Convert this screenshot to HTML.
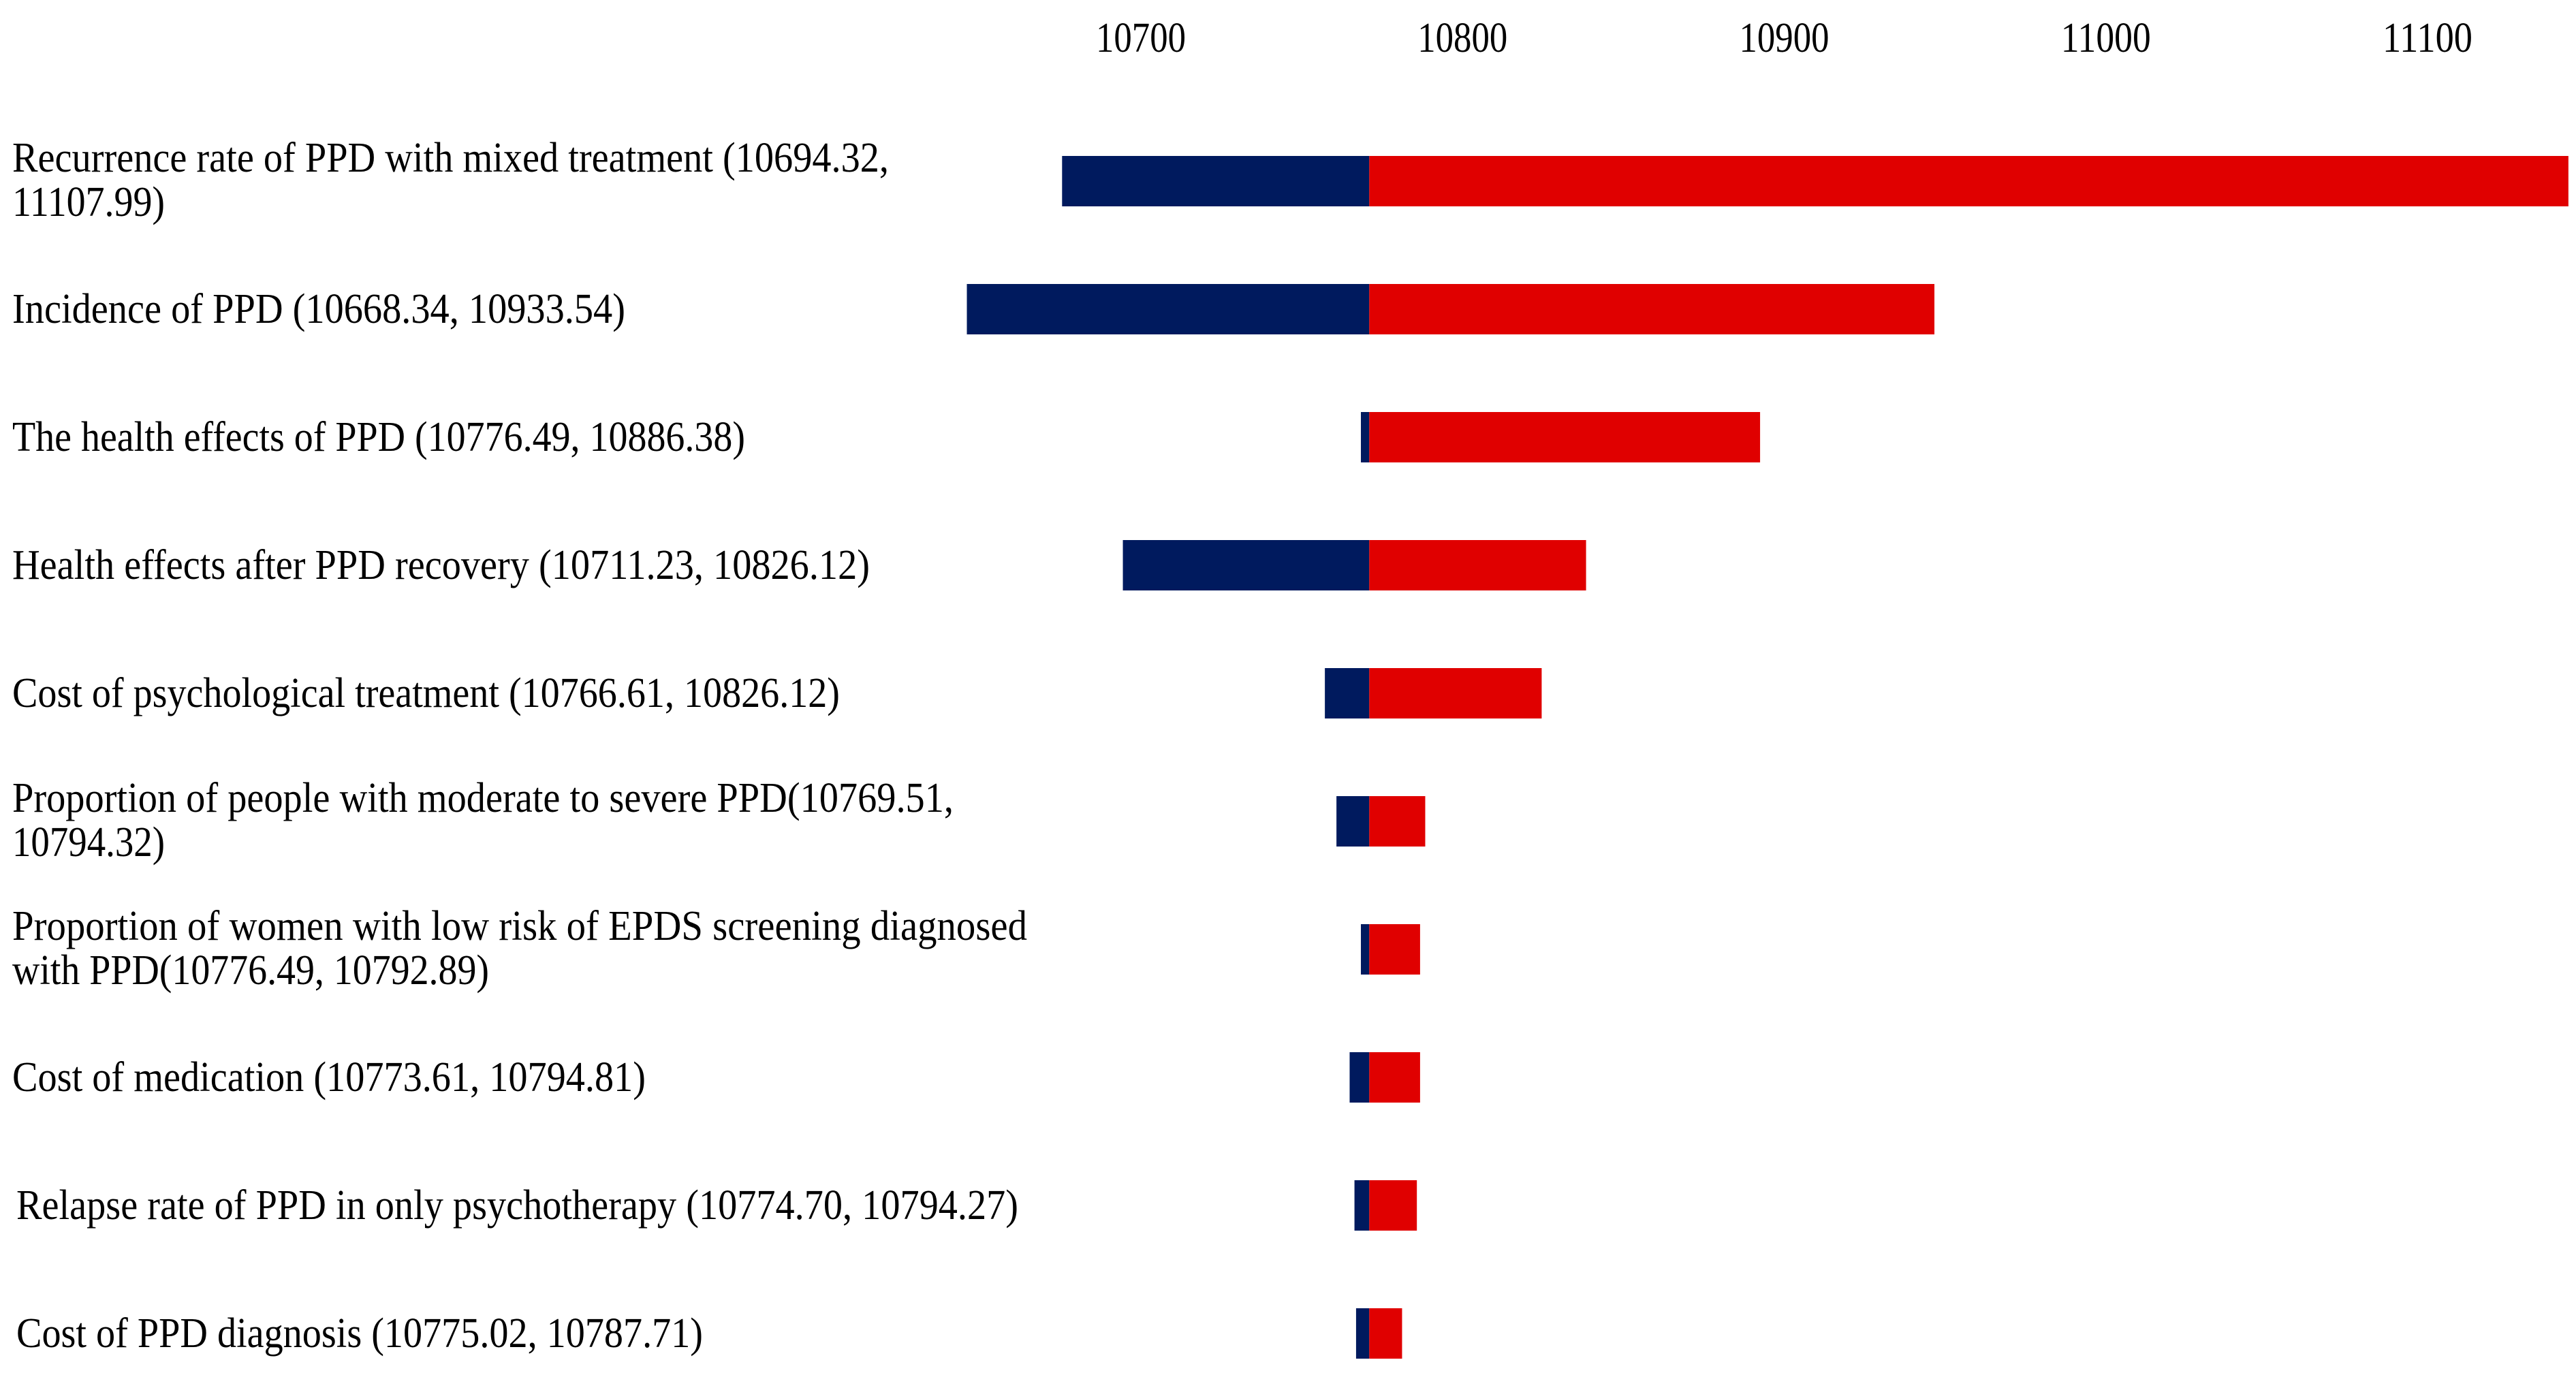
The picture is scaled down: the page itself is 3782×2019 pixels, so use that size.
<!DOCTYPE html>
<html><head><meta charset="utf-8"><style>
html,body{margin:0;padding:0;background:#fff;}
svg{display:block;}
text{font-family:"Liberation Serif",serif;fill:#000;}
</style></head><body>
<svg id="chart" width="3782" height="2019" viewBox="0 0 3782 2019" xmlns="http://www.w3.org/2000/svg"></svg>
<script>
const labels=[
 ["Recurrence rate of PPD with mixed treatment (10694.32,","11107.99)"],
 ["Incidence of PPD (10668.34, 10933.54)"],
 ["The health effects of PPD (10776.49,  10886.38)"],
 ["Health effects after PPD recovery (10711.23,  10826.12)"],
 ["Cost of psychological treatment (10766.61,  10826.12)"],
 ["Proportion of people with moderate to severe PPD(10769.51,","10794.32)"],
 ["Proportion of women with low risk of EPDS screening diagnosed","with PPD(10776.49,  10792.89)"],
 ["Cost of medication (10773.61,  10794.81)"],
 ["Relapse rate of PPD in only psychotherapy (10774.70, 10794.27)"],
 ["Cost of PPD diagnosis (10775.02, 10787.71)"]
];
const labelWidths=[[1287,224],[900,0],[1076,0],[1259,0],[1215,0],[1382,224],[1490,700],[930,0],[1471,0],[1008,0]];
const lowValues=[10675.5,10645.9,10768.4,10694.4,10757.2,10760.8,10768.4,10764.9,10766.4,10766.9];
const highValues=[11143.8,10946.7,10892.5,10838.4,10824.6,10788.4,10786.8,10786.8,10785.8,10781.2];
const baseValue=10771;
const ticks=[10700,10800,10900,11000,11100];

const svg=document.getElementById('chart');
const NS='http://www.w3.org/2000/svg';
function xs(v){return 1675+(v-10700)*4.7225;}
function ys(i){return 266+i*188;}
const barH=74;

ticks.forEach(t=>{
 const el=document.createElementNS(NS,'text');
 el.setAttribute('x',xs(t));el.setAttribute('y',76);
 el.setAttribute('text-anchor','middle');el.setAttribute('font-size','62');
 el.setAttribute('textLength','132');el.setAttribute('lengthAdjust','spacingAndGlyphs');
 el.textContent=t;
 
 
 svg.appendChild(el);
});

labels.forEach((lines,i)=>{
 const cy=ys(i);
 lines.forEach((ln,j)=>{
  const el=document.createElementNS(NS,'text');
  const x=(i>=8)?24:18;
  let y;
  if(lines.length===1){y=cy+20;}else{y=cy-14+j*65;}
  el.setAttribute('x',x);el.setAttribute('y',y);el.setAttribute('font-size','62');
  el.setAttribute('textLength',labelWidths[i][j]);el.setAttribute('lengthAdjust','spacingAndGlyphs');
  el.textContent=ln;
  
  
  svg.appendChild(el);
 });
 const lo=document.createElementNS(NS,'rect');
 lo.setAttribute('x',xs(lowValues[i]));lo.setAttribute('y',cy-barH/2);
 lo.setAttribute('width',xs(baseValue)-xs(lowValues[i]));lo.setAttribute('height',barH);
 lo.setAttribute('fill','#001a5e');
 
 
 svg.appendChild(lo);
 const hi=document.createElementNS(NS,'rect');
 hi.setAttribute('x',xs(baseValue));hi.setAttribute('y',cy-barH/2);
 hi.setAttribute('width',xs(highValues[i])-xs(baseValue));hi.setAttribute('height',barH);
 hi.setAttribute('fill','#e00000');
 
 
 svg.appendChild(hi);
});
</script>
</body></html>
